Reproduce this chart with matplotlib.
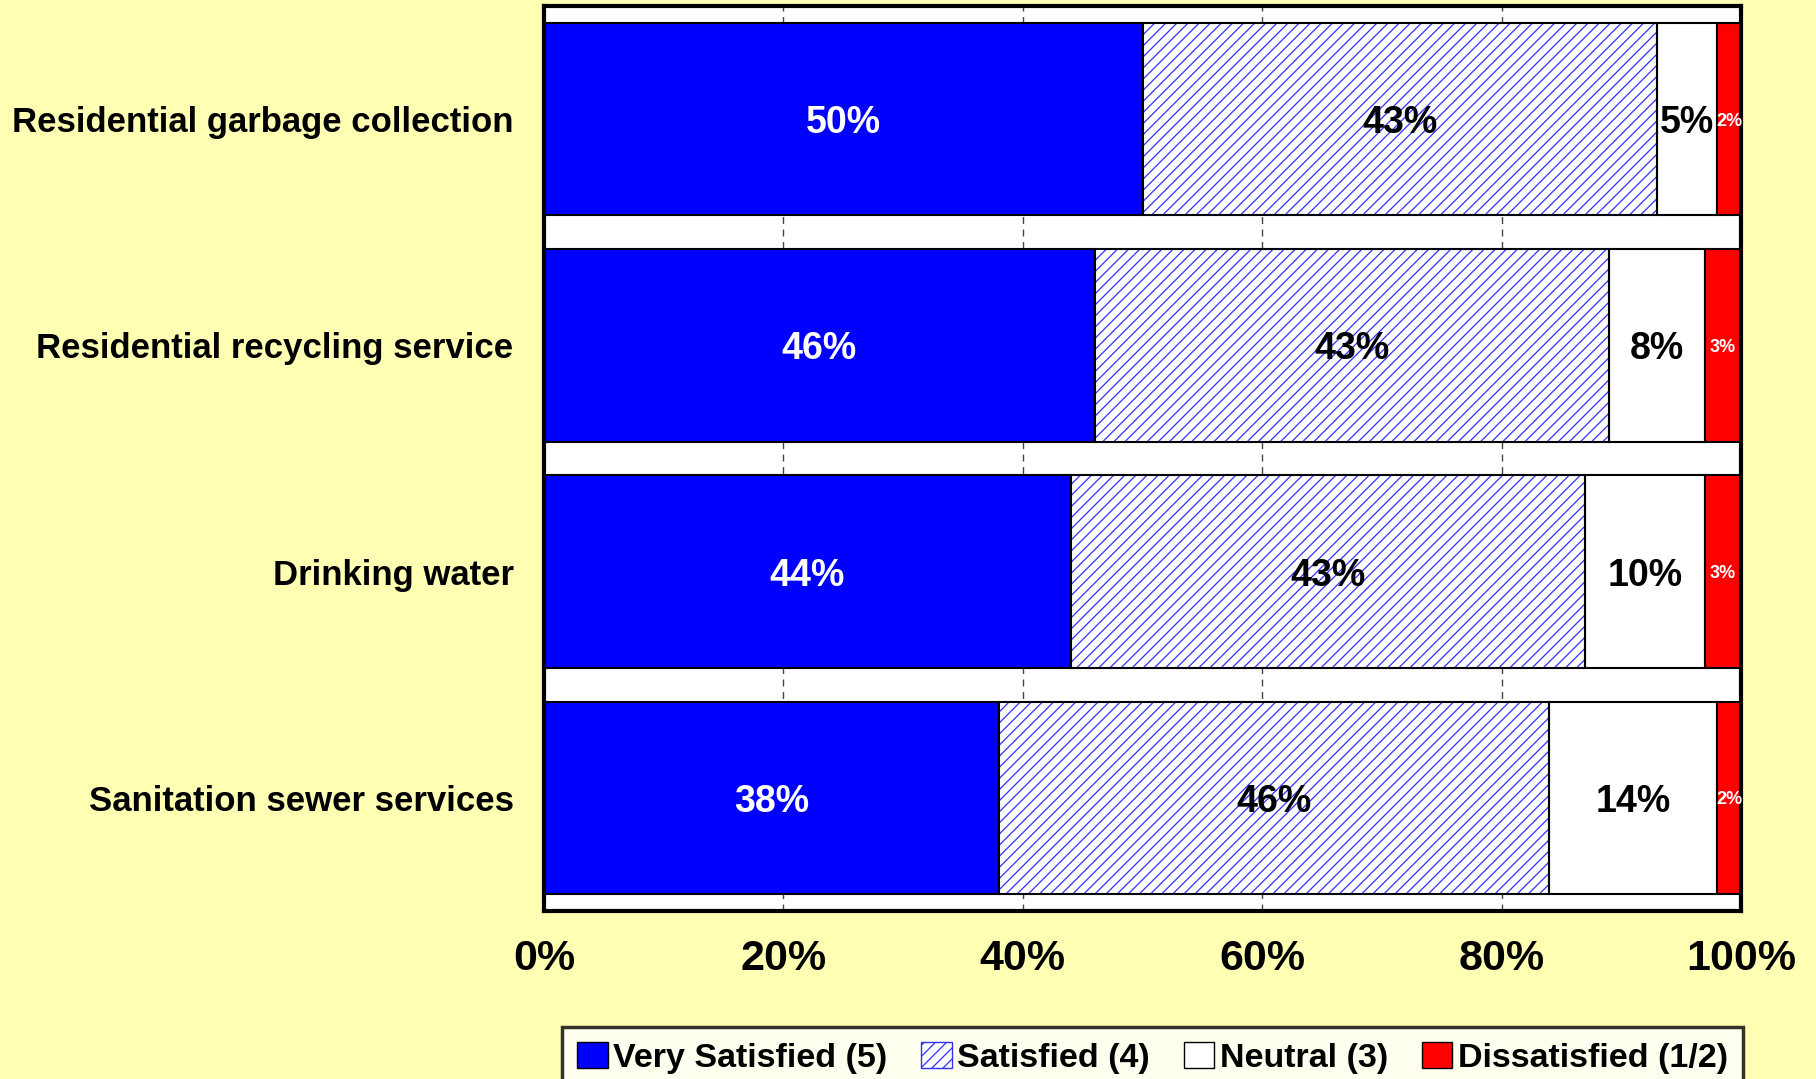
import matplotlib
matplotlib.use("Agg")
import matplotlib.pyplot as plt
from matplotlib.patches import Patch
import numpy as np

services = ["Residential garbage collection", "Residential recycling service",
            "Drinking water", "Sanitation sewer services"]
very_satisfied = [50, 46, 44, 38]
satisfied = [43, 43, 43, 46]
neutral = [5, 8, 10, 14]
dissatisfied = [2, 3, 3, 2]
ticks = [0, 20, 40, 60, 80, 100]
legend_labels = ["Very Satisfied (5)", "Satisfied (4)", "Neutral (3)", "Dissatisfied (1/2)"]

bg = "#FFFFB3"
plt.rcParams["font.family"] = ["Liberation Sans", "DejaVu Sans"]
plt.rcParams["hatch.linewidth"] = 0.9

fig = plt.figure(figsize=(18.16, 10.79), dpi=100, facecolor=bg)
ax = fig.add_axes([0.2996, 0.1557, 0.6591, 0.8387])
ax.set_facecolor("white")

y = np.arange(len(services))
h = 0.85
left = np.zeros(len(services))

# solid blue segment
ax.barh(y, very_satisfied, h, left=left, color="#0000FF", edgecolor="black", linewidth=1.5, zorder=2)
left += very_satisfied
# hatched segment: blue hatch first, then a black outline on top
ax.barh(y, satisfied, h, left=left, color="white", edgecolor="#3030ff", linewidth=0, hatch="///", zorder=2)
ax.barh(y, satisfied, h, left=left, fill=False, edgecolor="black", linewidth=1.5, zorder=3)
left += satisfied
ax.barh(y, neutral, h, left=left, color="white", edgecolor="black", linewidth=1.5, zorder=2)
left += neutral
ax.barh(y, dissatisfied, h, left=left, color="#FF0000", edgecolor="black", linewidth=1.5, zorder=2)

for i in range(len(services)):
    x0 = 0
    segs = [(very_satisfied[i], "white", 27), (satisfied[i], "black", 27),
            (neutral[i], "black", 27), (dissatisfied[i], "white", 13)]
    for val, col, fs in segs:
        ax.text(x0 + val / 2, i, f"{val}%", ha="center", va="center_baseline", color=col,
                fontsize=fs, fontweight="bold", zorder=4)
        x0 += val

ax.set_xlim(0, 100)
ax.set_ylim(3.5, -0.5)
ax.set_yticks(y)
ax.set_yticklabels(services, fontsize=25, fontweight="bold")
ax.set_xticks(ticks)
ax.set_xticklabels([f"{t}%" for t in ticks], fontsize=31, fontweight="bold")
ax.tick_params(axis="both", length=0)
ax.tick_params(axis="x", pad=20)
ax.tick_params(axis="y", pad=22)
ax.grid(axis="x", color="#444444", linestyle=(0, (5, 4)), linewidth=1)
ax.grid(axis="y", visible=False)
ax.set_axisbelow(True)
for s in ax.spines.values():
    s.set_linewidth(3)
    s.set_color("black")

handles = [Patch(facecolor="#0000FF", edgecolor="black"),
           Patch(facecolor="white", edgecolor="#3030ff", hatch="///"),
           Patch(facecolor="white", edgecolor="black"),
           Patch(facecolor="#FF0000", edgecolor="black")]
leg = fig.legend(handles, legend_labels, loc="upper left", bbox_to_anchor=(562 / 1816, 1 - 1027 / 1079),
                 ncol=4, frameon=True, fancybox=False, handlelength=0.9, handleheight=0.8,
                 handletextpad=0.15, columnspacing=1.0, borderpad=0.45, borderaxespad=0,
                 prop={"weight": "bold", "size": 24.5})
leg.get_frame().set_edgecolor("black")
leg.get_frame().set_linewidth(2.5)

fig.savefig("out.png", dpi=100, facecolor=bg)
